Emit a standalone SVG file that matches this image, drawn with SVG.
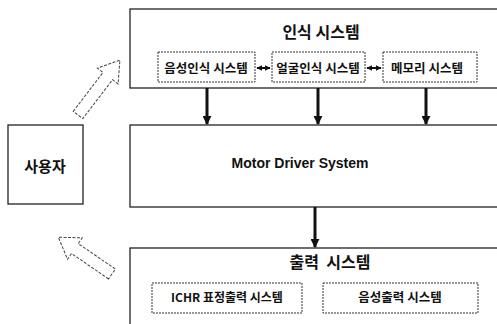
<svg xmlns="http://www.w3.org/2000/svg" width="497" height="324" viewBox="0 0 497 324">
<defs>
<style>
.box{fill:#fff;stroke:#222;stroke-width:1.3}
.sub{fill:#fff;stroke:#333;stroke-width:1;stroke-dasharray:2 1}
.ko{font-family:"Noto Sans CJK KR","Noto Sans",sans-serif;font-weight:bold;fill:#111;text-anchor:middle}
.en{font-family:"Liberation Sans",Arial,sans-serif;font-weight:bold;fill:#111;text-anchor:middle}
.down{stroke:#111;stroke-width:3;fill:none}
.dbl{stroke:#111;stroke-width:2;fill:none}
.hollow{fill:#fff;stroke:#444;stroke-width:1;stroke-dasharray:3 1.5}
</style>
<marker id="ah" viewBox="0 0 10 10" refX="9" refY="5" markerWidth="3" markerHeight="3" orient="auto">
<path d="M0,0 L10,5 L0,10 z" fill="#111"/>
</marker>
<marker id="ah2" viewBox="0 0 10 10" refX="9" refY="5" markerWidth="3" markerHeight="3" orient="auto-start-reverse">
<path d="M0,0 L10,5 L0,10 z" fill="#111"/>
</marker>
</defs>
<rect width="497" height="324" fill="#fff"/>
<g id="recog">
<rect class="box" x="130" y="9" width="380" height="79"/>
<text class="ko" x="321" y="38" font-size="16">인식 시스템</text>
</g>
<g id="voice-recog">
<rect class="sub" x="158" y="52" width="97" height="30"/>
<text class="ko" x="206" y="73" font-size="12.5">음성인식 시스템</text>
</g>
<g id="face-recog">
<rect class="sub" x="272" y="52" width="93" height="30"/>
<text class="ko" x="318" y="73" font-size="12.5">얼굴인식 시스템</text>
</g>
<g id="memory">
<rect class="sub" x="383" y="52" width="94" height="30"/>
<text class="ko" x="427" y="73" font-size="12.5">메모리 시스템</text>
</g>
<g id="motor">
<rect class="box" x="130" y="125" width="380" height="82"/>
<text class="en" x="300" y="168" font-size="14">Motor Driver System</text>
</g>
<g id="output">
<rect class="box" x="130" y="248" width="380" height="90"/>
<text class="ko" x="330" y="268" font-size="16" xml:space="preserve">출력  시스템</text>
</g>
<g id="ichr">
<rect class="sub" x="152" y="283" width="150" height="30"/>
<text class="ko" x="227" y="302" font-size="12">ICHR 표정출력 시스템</text>
</g>
<g id="voice-out">
<rect class="sub" x="323" y="283" width="155" height="30"/>
<text class="ko" x="400" y="302" font-size="12.5">음성출력 시스템</text>
</g>
<g id="user">
<rect class="box" x="8" y="125" width="75" height="79"/>
<text class="ko" x="45" y="172" font-size="15">사용자</text>
</g>
<g id="connectors">
<line class="dbl" x1="257" y1="68" x2="270" y2="68" marker-start="url(#ah2)" marker-end="url(#ah2)"/>
<line class="dbl" x1="367" y1="68" x2="381" y2="68" marker-start="url(#ah2)" marker-end="url(#ah2)"/>
<line class="down" x1="207" y1="88" x2="207" y2="124" marker-end="url(#ah)"/>
<line class="down" x1="318" y1="88" x2="318" y2="124" marker-end="url(#ah)"/>
<line class="down" x1="426" y1="88" x2="426" y2="124" marker-end="url(#ah)"/>
<line class="down" x1="315" y1="207" x2="315" y2="247" marker-end="url(#ah)"/>
<polygon class="hollow" transform="translate(78,115) rotate(-52.6)" points="0,-6 49,-6 49,-13 69,0 49,13 49,6 0,6"/>
<polygon class="hollow" transform="translate(112,274) rotate(-145.6)" points="0,-6 45,-6 45,-13 65,0 45,13 45,6 0,6"/>
</g>
</svg>
